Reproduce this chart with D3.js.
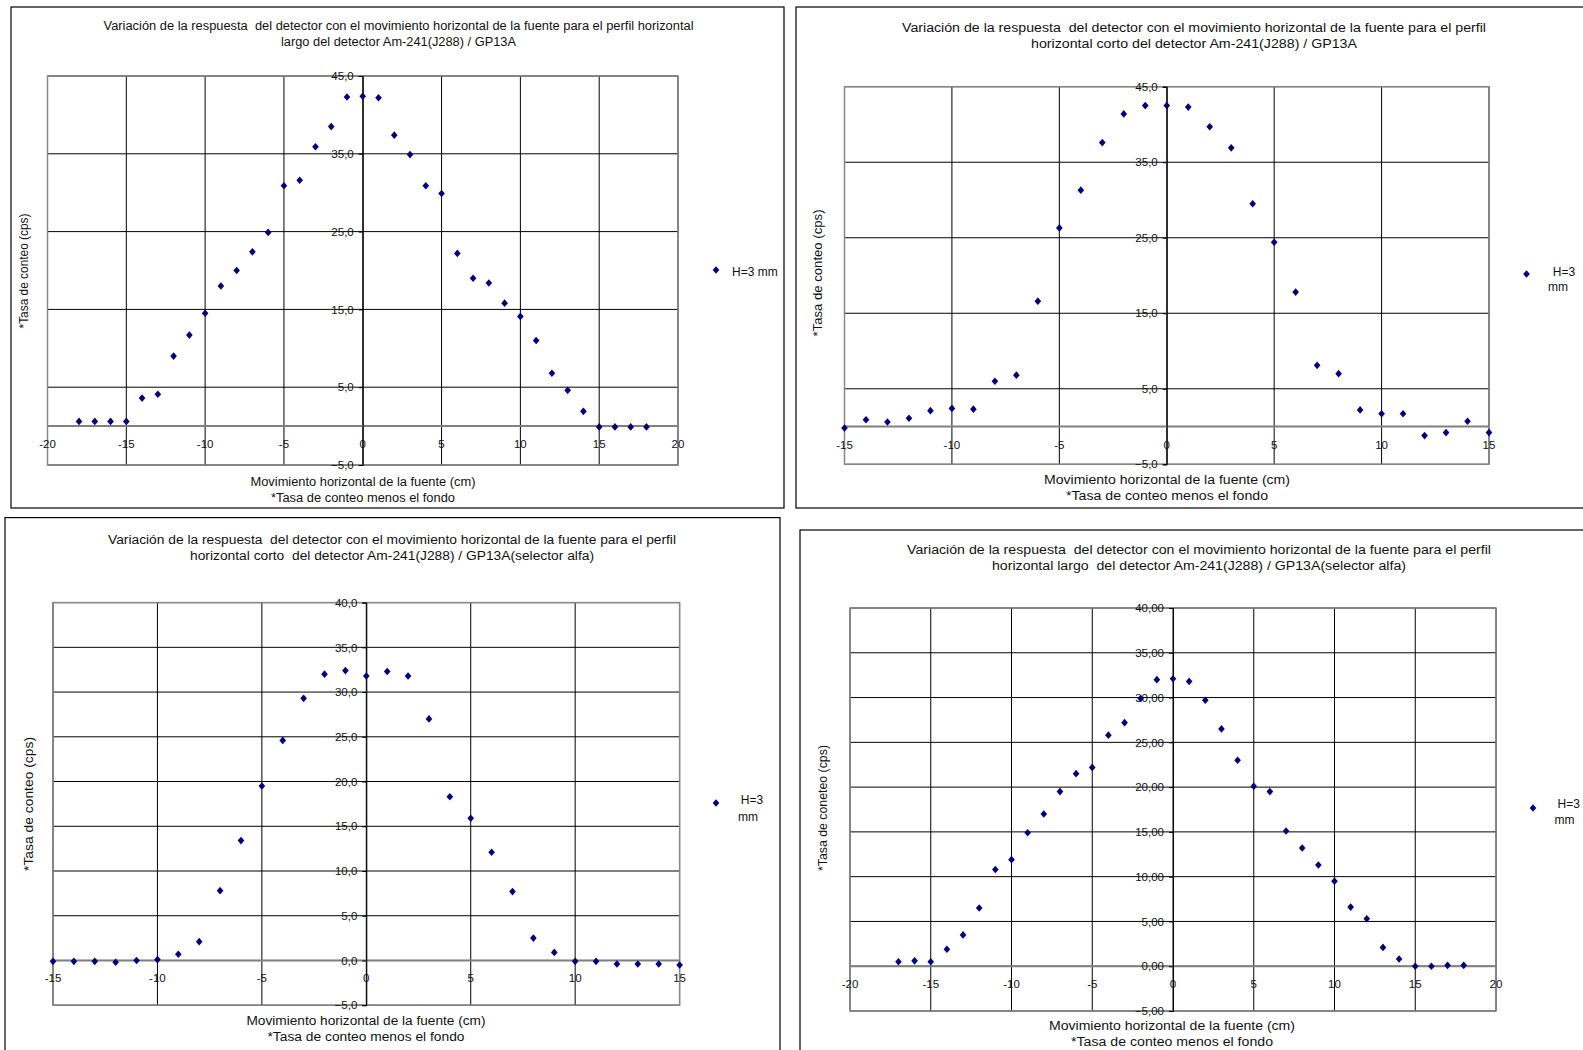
<!DOCTYPE html>
<html lang="es">
  <head>
    <meta charset="UTF-8" />
    <title>Perfiles horizontales Am-241</title>
    <style>
      body { margin: 0; background: #fff; }
      svg text { font-family: "Liberation Sans", Arial, sans-serif; fill: #111; white-space: pre; }
    </style>
  </head>
  <body>
    <div id="chart"></div>
    <script src="https://cdn.jsdelivr.net/npm/d3@7"></script>
    <script>

      // --- data ---
      var xLargo = d3.range(-18, 19);
      var yLargo = [0.6, 0.6, 0.6, 0.6, 3.6, 4.1, 9.0, 11.7, 14.5, 18.0, 20.0, 22.4, 24.9,
                    30.9, 31.6, 35.9, 38.5, 42.3, 42.4, 42.2, 37.4, 34.9, 30.9, 29.9, 22.2,
                    19.0, 18.4, 15.8, 14.1, 11.0, 6.8, 4.6, 1.9, -0.1, -0.1, -0.1, -0.1];

      var xCorto = d3.range(-15, 16);
      var yCorto = [-0.2, 0.9, 0.6, 1.1, 2.1, 2.4, 2.3, 6.0, 6.8, 16.6, 26.3, 31.3, 37.6,
                    41.4, 42.5, 42.5, 42.3, 39.7, 36.9, 29.5, 24.4, 17.8, 8.1, 7.0, 2.2,
                    1.7, 1.7, -1.2, -0.8, 0.7, -0.8];

      var xCortoAlfa = d3.range(-15, 16);
      var yCortoAlfa = [-0.1, -0.1, -0.1, -0.2, 0.0, 0.1, 0.7, 2.1, 7.8, 13.4, 19.5, 24.6,
                        29.3, 32.0, 32.4, 31.8, 32.3, 31.8, 27.0, 18.3, 15.9, 12.1, 7.7, 2.5,
                        0.9, -0.1, -0.1, -0.4, -0.4, -0.4, -0.5];

      var xLargoAlfa = d3.range(-17, 19);
      var yLargoAlfa = [0.5, 0.6, 0.5, 1.9, 3.5, 6.5, 10.8, 11.9, 14.9, 17.0, 19.5, 21.5,
                        22.2, 25.8, 27.2, 29.9, 32.0, 32.1, 31.8, 29.7, 26.5, 23.0, 20.1,
                        19.5, 15.1, 13.2, 11.3, 9.5, 6.6, 5.3, 2.1, 0.8, 0.0, 0.0, 0.1, 0.1];

      var ticks20 = [-20, -15, -10, -5, 0, 5, 10, 15, 20];
      var ticks15 = [-15, -10, -5, 0, 5, 10, 15];
      var yTicks45 = [-5, 5, 15, 25, 35, 45];
      var yTicks40 = [-5, 0, 5, 10, 15, 20, 25, 30, 35, 40];

      var titles = [
        ["Variación de la respuesta  del detector con el movimiento horizontal de la fuente para el perfil horizontal",
         "largo del detector Am-241(J288) / GP13A"],
        ["Variación de la respuesta  del detector con el movimiento horizontal de la fuente para el perfil",
         "horizontal corto del detector Am-241(J288) / GP13A"],
        ["Variación de la respuesta  del detector con el movimiento horizontal de la fuente para el perfil",
         "horizontal corto  del detector Am-241(J288) / GP13A(selector alfa)"],
        ["Variación de la respuesta  del detector con el movimiento horizontal de la fuente para el perfil",
         "horizontal largo  del detector Am-241(J288) / GP13A(selector alfa)"]
      ];
      var yLabels = ["*Tasa de conteo (cps)", "*Tasa de conteo (cps)", "*Tasa de conteo (cps)", "*Tasa de coneteo (cps)"];
      var xLabel = "Movimiento horizontal de la fuente (cm)";
      var footNote = "*Tasa de conteo menos el fondo";

      var svg = d3.select("#chart").append("svg")
                  .attr("width", 1583)
                  .attr("height", 1050);

      // small squat diamond like the spreadsheet marker
      var diamond = {
        draw: function(ctx, size) {
          var w = Math.sqrt(size) / 2, h = w * 1.15;
          ctx.moveTo(0, -h); ctx.lineTo(w, 0); ctx.lineTo(0, h); ctx.lineTo(-w, 0); ctx.closePath();
        }
      };
      var marker = d3.symbol().type(diamond).size(44);

      function fmt1(d) { return d3.format(".1f")(d).replace(".", ","); }
      function fmt2(d) { return d3.format(".2f")(d).replace(".", ","); }

      function panel(p) {
        var g = svg.append("g");

        // outer frame
        g.append("rect")
         .attr("x", p.box[0]).attr("y", p.box[1])
         .attr("width", p.box[2] - p.box[0]).attr("height", p.box[3] - p.box[1])
         .attr("fill", "none").attr("stroke", "#000").attr("stroke-width", 1.2);

        var x = d3.scaleLinear().domain(p.xDomain).range([p.plot[0], p.plot[1]]);
        var y = d3.scaleLinear().domain(p.yDomain).range([p.plot[3], p.plot[2]]);

        // gridlines
        g.selectAll(".vgrid").data(p.xTicks).enter().append("line")
         .attr("x1", function(d) { return x(d); }).attr("x2", function(d) { return x(d); })
         .attr("y1", y(p.yDomain[0])).attr("y2", y(p.yDomain[1]))
         .attr("stroke", "#000").attr("stroke-width", 1);
        g.selectAll(".hgrid").data(p.yTicks).enter().append("line")
         .attr("x1", x(p.xDomain[0])).attr("x2", x(p.xDomain[1]))
         .attr("y1", function(d) { return y(d); }).attr("y2", function(d) { return y(d); })
         .attr("stroke", "#000").attr("stroke-width", 1);

        // plot area frame
        g.append("rect")
         .attr("x", x(p.xDomain[0])).attr("y", y(p.yDomain[1]))
         .attr("width", x(p.xDomain[1]) - x(p.xDomain[0]))
         .attr("height", y(p.yDomain[0]) - y(p.yDomain[1]))
         .attr("fill", "none").attr("stroke", "#888").attr("stroke-width", 1.5);

        // x axis along y = 0
        g.append("line")
         .attr("x1", x(p.xDomain[0])).attr("x2", x(p.xDomain[1]))
         .attr("y1", y(0)).attr("y2", y(0))
         .attr("stroke", "#808080").attr("stroke-width", 2);

        // y axis along x = 0
        var yAxis = d3.axisLeft(y).tickValues(p.yTicks).tickSize(4).tickPadding(5).tickFormat(p.fmt);
        var ya = g.append("g").attr("transform", "translate(" + x(0) + ",0)").call(yAxis);
        ya.select(".domain").attr("stroke", "#000");
        ya.selectAll("text").style("font-size", "11.5px").attr("fill", "#111")
          .style("font-family", "'Liberation Sans', Arial, sans-serif");

        // x tick labels just under the zero line
        g.selectAll(".xlab").data(p.xTicks).enter().append("text")
         .attr("x", function(d) { return x(d); })
         .attr("y", y(0) + 18)
         .attr("text-anchor", "middle")
         .attr("dominant-baseline", "central")
         .style("font-size", "11.5px")
         .text(function(d) { return d; });

        // points
        g.selectAll(".pt").data(p.xs).enter().append("path")
         .attr("d", marker)
         .attr("fill", "#000080")
         .attr("transform", function(d, i) { return "translate(" + x(d) + "," + y(p.ys[i]) + ")"; });

        // title
        g.selectAll(".title").data(p.title).enter().append("text")
         .attr("x", p.titleX)
         .attr("y", function(d, i) { return p.titleY + i * 16; })
         .attr("text-anchor", "middle")
         .attr("dominant-baseline", "central")
         .attr("textLength", function(d, i) { return p.titleW[i]; })
         .attr("lengthAdjust", "spacingAndGlyphs")
         .style("font-size", "12px")
         .text(function(d) { return d; });

        // axis labels
        g.append("text")
         .attr("transform", "translate(" + p.yLab[0] + "," + p.yLab[1] + ")rotate(-90)")
         .attr("text-anchor", "middle")
         .attr("dominant-baseline", "central")
         .attr("textLength", p.yLabW)
         .attr("lengthAdjust", "spacingAndGlyphs")
         .style("font-size", "12px")
         .text(p.yLabel);
        g.selectAll(".xlbl").data([xLabel, footNote]).enter().append("text")
         .attr("x", p.xLab[0])
         .attr("y", function(d, i) { return p.xLab[1] + i * 16; })
         .attr("text-anchor", "middle")
         .attr("dominant-baseline", "central")
         .attr("textLength", function(d, i) { return p.xLabW[i]; })
         .attr("lengthAdjust", "spacingAndGlyphs")
         .style("font-size", "12px")
         .text(function(d) { return d; });

        // legend
        g.append("path").attr("d", marker).attr("fill", "#000080")
         .attr("transform", "translate(" + p.leg[0] + "," + p.leg[1] + ")");
        g.selectAll(".leg").data(p.legText).enter().append("text")
         .attr("x", function(d, i) { return p.legPos[i][0]; })
         .attr("y", function(d, i) { return p.legPos[i][1]; })
         .attr("text-anchor", p.legAnchor)
         .attr("dominant-baseline", "central")
         .style("font-size", "12px")
         .text(function(d) { return d; });
      }

      panel({
        box: [11, 7, 784, 508], plot: [47.5, 678, 76, 465],
        xDomain: [-20, 20], yDomain: [-5, 45], xTicks: ticks20, yTicks: yTicks45, fmt: fmt1,
        xs: xLargo, ys: yLargo, title: titles[0], titleX: 398.5, titleY: 26, titleW: [590, 235],
        yLabel: yLabels[0], yLab: [24, 271], yLabW: 115, xLab: [363, 482], xLabW: [225, 184],
        leg: [716, 270], legText: ["H=3 mm"], legPos: [[732, 272]], legAnchor: "start"
      });
      panel({
        box: [796, 7, 1600, 508], plot: [844.5, 1489, 86.7, 464.3],
        xDomain: [-15, 15], yDomain: [-5, 45], xTicks: ticks15, yTicks: yTicks45, fmt: fmt1,
        xs: xCorto, ys: yCorto, title: titles[1], titleX: 1194, titleY: 28, titleW: [584, 326],
        yLabel: yLabels[1], yLab: [818, 273], yLabW: 127, xLab: [1167, 480], xLabW: [246, 202],
        leg: [1526.5, 274], legText: ["H=3", "mm"], legPos: [[1564, 272], [1558, 287]], legAnchor: "middle"
      });
      panel({
        box: [5, 517.6, 780, 1060], plot: [53, 679.6, 602.6, 1005.2],
        xDomain: [-15, 15], yDomain: [-5, 40], xTicks: ticks15, yTicks: yTicks40, fmt: fmt1,
        xs: xCortoAlfa, ys: yCortoAlfa, title: titles[2], titleX: 392, titleY: 539.6, titleW: [568, 404],
        yLabel: yLabels[2], yLab: [29, 804], yLabW: 134, xLab: [366, 1021], xLabW: [239, 197],
        leg: [716, 803], legText: ["H=3", "mm"], legPos: [[752, 800], [748, 816.5]], legAnchor: "middle"
      });
      panel({
        box: [800, 530, 1600, 1060], plot: [850, 1496, 608, 1011],
        xDomain: [-20, 20], yDomain: [-5, 40], xTicks: ticks20, yTicks: yTicks40, fmt: fmt2,
        xs: xLargoAlfa, ys: yLargoAlfa, title: titles[3], titleX: 1199, titleY: 550, titleW: [584, 414],
        yLabel: yLabels[3], yLab: [823, 808], yLabW: 126, xLab: [1172, 1025.5], xLabW: [246, 202],
        leg: [1533, 808], legText: ["H=3", "mm"], legPos: [[1557.5, 804], [1554.5, 820]], legAnchor: "start"
      });

    </script>
  </body>
</html>
